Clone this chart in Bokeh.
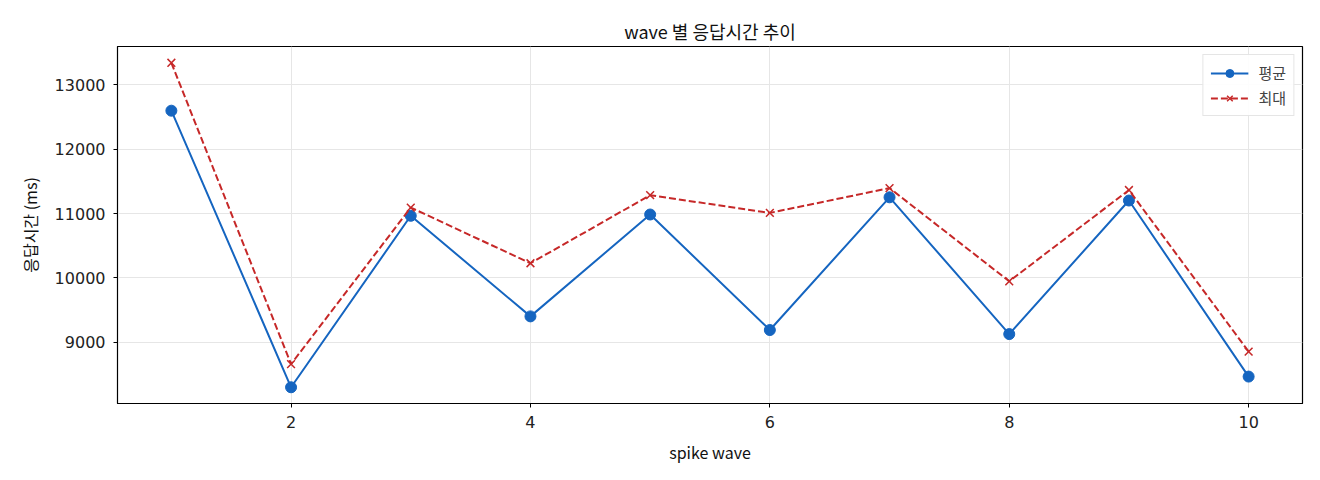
from bokeh.plotting import figure
from bokeh.models import Range1d, FixedTicker
from bokeh.embed import file_html
from bokeh.resources import INLINE

# Data
waves = [1, 2, 3, 4, 5, 6, 7, 8, 9, 10]
avg_ms = [12597, 8302, 10965, 9403, 10985, 9191, 11252, 9128, 11202, 8468]
max_ms = [13341, 8662, 11093, 10228, 11285, 11010, 11395, 9948, 11365, 8856]
x_ticks = [2, 4, 6, 8, 10]
y_ticks = [9000, 10000, 11000, 12000, 13000]

FONT = "Noto Sans CJK KR"
BLUE = "#1565c0"
RED = "#c62828"

p = figure(width=1318, height=478,
           title="wave 별 응답시간 추이",
           x_axis_label="spike wave",
           y_axis_label="응답시간 (ms)",
           x_range=Range1d(0.55, 10.45),
           y_range=Range1d(8050, 13594),
           output_backend="svg", toolbar_location=None)
p.min_border_left = 117
p.min_border_right = 16
p.min_border_top = 46
p.min_border_bottom = 75
p.outline_line_color = "black"
p.outline_line_width = 1.2

p.title.align = "center"
p.title.text_font = FONT
p.title.text_font_size = "18px"
p.title.text_font_style = "normal"
p.title.text_color = "#111111"
p.title.offset = 0
p.title.standoff = 5

for ax in (p.xaxis, p.yaxis):
    ax.axis_label_text_font = FONT
    ax.axis_label_text_font_size = "16px"
    ax.axis_label_text_font_style = "normal"
    ax.axis_label_text_color = "#111111"
    ax.major_label_text_font = "DejaVu Sans"
    ax.major_label_text_font_size = "16px"
    ax.major_label_text_color = "#222222"
    ax.major_tick_in = 0
    ax.major_tick_out = 4
    ax.minor_tick_line_color = None
    ax.axis_line_color = "black"
p.xaxis.ticker = FixedTicker(ticks=x_ticks)
p.yaxis.ticker = FixedTicker(ticks=y_ticks)
p.yaxis.major_label_standoff = 8
p.xaxis.major_label_standoff = 8
p.xaxis.axis_label_standoff = 9
p.yaxis.axis_label_standoff = 10

p.grid.grid_line_color = "#e6e6e6"
p.grid.grid_line_width = 1
p.xgrid.ticker = FixedTicker(ticks=x_ticks)
p.ygrid.ticker = FixedTicker(ticks=y_ticks)

p.line(waves, avg_ms, color=BLUE, line_width=2, legend_label="평균")
p.scatter(waves, avg_ms, color=BLUE, size=11, legend_label="평균")
p.line(waves, max_ms, color=RED, line_width=2, line_dash="7 3", legend_label="최대")
p.scatter(waves, max_ms, marker="x", color=RED, line_width=1.5, size=11, legend_label="최대")

p.legend.location = "top_right"
p.legend.label_text_font = FONT
p.legend.label_text_font_size = "15px"
p.legend.border_line_color = "#cccccc"
p.legend.background_fill_alpha = 0.9
p.legend.margin = 8
p.legend.padding = 7
p.legend.spacing = 4
p.legend.glyph_width = 38
p.legend.label_standoff = 10

open("out.html", "w").write(file_html(p, INLINE))
